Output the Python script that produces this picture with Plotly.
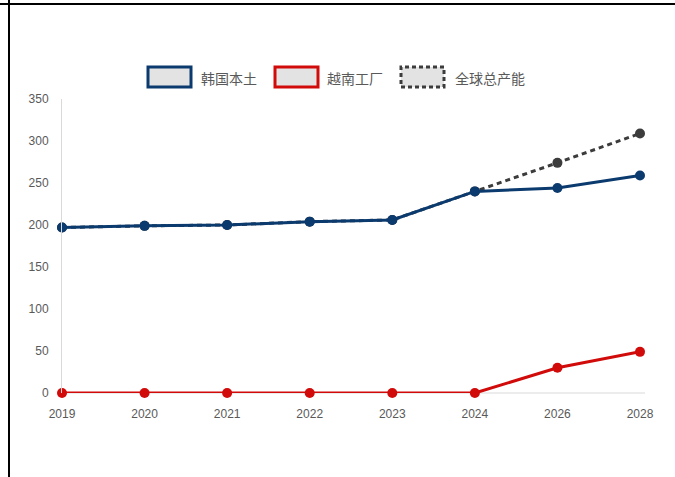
import plotly.graph_objects as go

years = ["2019", "2020", "2021", "2022", "2023", "2024", "2026", "2028"]
korea = [197, 199, 200, 204, 206, 240, 244, 259]
vietnam = [0, 0, 0, 0, 0, 0, 30, 49]
total = [197, 199, 200, 204, 206, 240, 274, 309]
series_names = ["韩国本土", "越南工厂", "全球总产能"]

BLUE = "#0b3a6e"
RED = "#d10a0a"
GRAY = "#3c3c3c"

W, H = 675, 477
L, T = 62, 99
R = W - 640
B = H - 393
PW, PH = W - L - R, H - T - B


def px(x):
    # screen pixel -> paper coordinate
    return (x - L) / PW


def py(y):
    return (H - B - y) / PH


fig = go.Figure()

fig.add_trace(go.Scatter(x=years, y=total, mode="lines+markers", showlegend=False,
                         line=dict(color=GRAY, width=3, dash="5px,4px"),
                         marker=dict(size=10, color=GRAY), cliponaxis=False))
fig.add_trace(go.Scatter(x=years, y=korea, mode="lines+markers", showlegend=False,
                         line=dict(color=BLUE, width=3),
                         marker=dict(size=10, color=BLUE), cliponaxis=False))
fig.add_trace(go.Scatter(x=years, y=vietnam, mode="lines+markers", showlegend=False,
                         line=dict(color=RED, width=3),
                         marker=dict(size=10, color=RED), cliponaxis=False))

shapes = [
    dict(type="line", xref="paper", yref="paper", x0=0, x1=px(645), y0=0, y1=0,
         line=dict(color="#d9d9d9", width=1), layer="below"),
    dict(type="line", xref="paper", yref="paper", x0=px(0), x1=px(680), y0=py(4), y1=py(4),
         line=dict(color="black", width=2)),
    dict(type="line", xref="paper", yref="paper", x0=px(9), x1=px(9), y0=py(0), y1=py(480),
         line=dict(color="black", width=2)),
]
annotations = []
legend_boxes = [(148, 191), (275, 318), (401, 444)]
legend_text_x = [199, 325, 453]
legend_cols = [BLUE, RED, GRAY]
legend_dash = ["solid", "solid", "4px,3px"]
for (x0, x1), tx, col, dash, name in zip(legend_boxes, legend_text_x, legend_cols, legend_dash, series_names):
    shapes.append(dict(type="rect", xref="paper", yref="paper",
                       x0=px(x0), x1=px(x1), y0=py(87), y1=py(67),
                       fillcolor="#e3e3e3", line=dict(color=col, width=3, dash=dash)))
    annotations.append(dict(text=name, xref="paper", yref="paper", x=px(tx), y=py(78),
                            xanchor="left", yanchor="middle", showarrow=False,
                            font=dict(family="Noto Sans CJK SC", size=14, color="#595959")))

tick_font = dict(family="Arial Narrow, Liberation Sans", size=12, color="#595959")
fig.update_layout(
    width=W, height=H,
    margin=dict(l=L, r=R, t=T, b=B, autoexpand=False),
    plot_bgcolor="white", paper_bgcolor="white",
    showlegend=False,
    xaxis=dict(type="category", range=[0, 7], showgrid=False, zeroline=False,
               showline=False, ticks="", ticklabelstandoff=12, tickfont=tick_font),
    yaxis=dict(range=[0, 350], dtick=50, showgrid=False, zeroline=False,
               showline=True, linecolor="#d9d9d9", linewidth=1, ticks="",
               ticklabelstandoff=10, tickfont=tick_font),
    shapes=shapes,
    annotations=annotations,
)

fig.write_html("out.html", config={"displayModeBar": False},
               post_script="document.body.style.margin='0';document.body.style.overflow='hidden';")
